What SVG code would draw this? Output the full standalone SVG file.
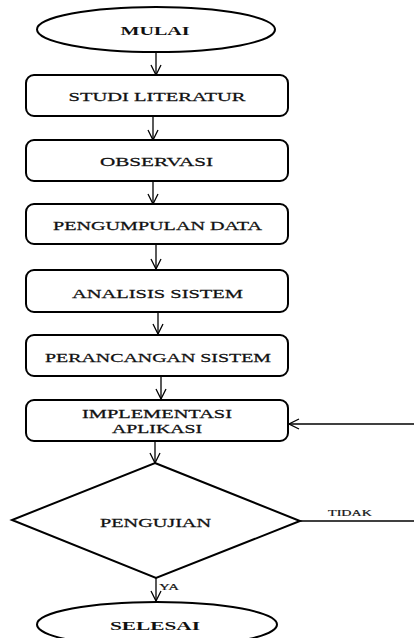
<svg xmlns="http://www.w3.org/2000/svg" width="414" height="638" viewBox="0 0 414 638">
<style>
.shape{fill:#fff;stroke:#000;stroke-width:2}
.lbl{font-family:"Liberation Serif","Times New Roman",serif;font-size:13.5px;fill:#111;text-anchor:middle;stroke:#111;stroke-width:0.25}
.two{font-size:12px}
.b{font-weight:bold;stroke-width:0}
.conn{stroke:#000;stroke-width:1.3;fill:none}
.small{font-family:"Liberation Serif","Times New Roman",serif;font-size:9px;fill:#111;stroke:#111;stroke-width:0.2}
</style>
<defs>
<marker id="ah" viewBox="0 0 12 12" refX="11" refY="6" markerWidth="12" markerHeight="12" markerUnits="userSpaceOnUse" orient="auto">
<path d="M1,1 L11,6 L1,11" fill="none" stroke="#000" stroke-width="1.3"/>
</marker>
</defs>
<rect width="414" height="638" fill="#fff"/>
<g id="connectors">
<line class="conn" x1="156" y1="52" x2="156" y2="75" marker-end="url(#ah)"/>
<line class="conn" x1="153" y1="116" x2="153" y2="140" marker-end="url(#ah)"/>
<line class="conn" x1="153" y1="181" x2="153" y2="204" marker-end="url(#ah)"/>
<line class="conn" x1="156" y1="244" x2="156" y2="269" marker-end="url(#ah)"/>
<line class="conn" x1="158" y1="312" x2="158" y2="334" marker-end="url(#ah)"/>
<line class="conn" x1="161" y1="376" x2="161" y2="399" marker-end="url(#ah)"/>
<line class="conn" x1="155" y1="441" x2="155" y2="463" marker-end="url(#ah)"/>
<line class="conn" x1="156" y1="578" x2="156" y2="601" marker-end="url(#ah)"/>
<line class="conn" x1="300" y1="521" x2="414" y2="521"/>
<line class="conn" x1="414" y1="424" x2="289" y2="424" marker-end="url(#ah)"/>
<text class="small" transform="translate(328,516) scale(1.4,1)" x="0" y="0" textLength="31.4" lengthAdjust="spacingAndGlyphs">TIDAK</text>
<text class="small" transform="translate(159,590) scale(1.4,1)" x="0" y="0" textLength="14.3" lengthAdjust="spacingAndGlyphs">YA</text>
</g>
<g id="mulai">
<ellipse class="shape" cx="156" cy="29.5" rx="119" ry="22.5"/>
<text class="lbl b" transform="translate(155,35) scale(1.4,1)" x="0" y="0" textLength="49.3" lengthAdjust="spacingAndGlyphs">MULAI</text>
</g>
<g id="studi-literatur">
<rect class="shape" x="26" y="75" width="262" height="41" rx="8"/>
<text class="lbl" transform="translate(157,100.5) scale(1.4,1)" x="0" y="0" textLength="126.4" lengthAdjust="spacingAndGlyphs">STUDI LITERATUR</text>
</g>
<g id="observasi">
<rect class="shape" x="26" y="140" width="262" height="41" rx="8"/>
<text class="lbl" transform="translate(156.5,166) scale(1.4,1)" x="0" y="0" textLength="80.7" lengthAdjust="spacingAndGlyphs">OBSERVASI</text>
</g>
<g id="pengumpulan-data">
<rect class="shape" x="26" y="204" width="262" height="40" rx="8"/>
<text class="lbl" transform="translate(157.5,230) scale(1.4,1)" x="0" y="0" textLength="149.3" lengthAdjust="spacingAndGlyphs">PENGUMPULAN DATA</text>
</g>
<g id="analisis-sistem">
<rect class="shape" x="26" y="270" width="262" height="42" rx="8"/>
<text class="lbl" transform="translate(157.5,298) scale(1.4,1)" x="0" y="0" textLength="122.1" lengthAdjust="spacingAndGlyphs">ANALISIS SISTEM</text>
</g>
<g id="perancangan-sistem">
<rect class="shape" x="26" y="335" width="262" height="41" rx="8"/>
<text class="lbl" transform="translate(158,362) scale(1.4,1)" x="0" y="0" textLength="161.4" lengthAdjust="spacingAndGlyphs">PERANCANGAN SISTEM</text>
</g>
<g id="implementasi-aplikasi">
<rect class="shape" x="26" y="400" width="262" height="41" rx="8"/>
<text class="lbl two" transform="translate(157,418) scale(1.4,1)" x="0" y="0" textLength="107.1" lengthAdjust="spacingAndGlyphs">IMPLEMENTASI</text>
<text class="lbl two" transform="translate(157,432.5) scale(1.4,1)" x="0" y="0" textLength="64.3" lengthAdjust="spacingAndGlyphs">APLIKASI</text>
</g>
<g id="pengujian">
<polygon class="shape" points="155,463 300,521 156,578 12,520"/>
<text class="lbl" transform="translate(155.5,527) scale(1.4,1)" x="0" y="0" textLength="79.3" lengthAdjust="spacingAndGlyphs">PENGUJIAN</text>
</g>
<g id="selesai">
<ellipse class="shape" cx="157" cy="624.5" rx="120" ry="22.5"/>
<text class="lbl b" transform="translate(155,630) scale(1.4,1)" x="0" y="0" textLength="64.3" lengthAdjust="spacingAndGlyphs">SELESAI</text>
</g>
</svg>
